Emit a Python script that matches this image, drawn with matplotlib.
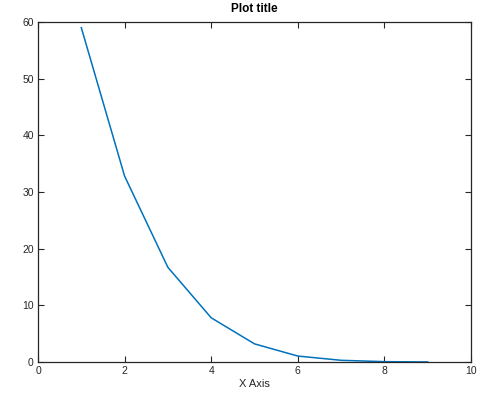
import matplotlib
matplotlib.use('Agg')
import matplotlib.pyplot as plt

plt.rcParams['font.family'] = ['Liberation Sans', 'DejaVu Sans']

x_vals = [1, 2, 3, 4, 5, 6, 7, 8, 9]
y_vals = [59.0, 32.8, 16.7, 7.8, 3.2, 1.05, 0.3, 0.06, 0.01]

fig = plt.figure(figsize=(5.0, 3.94), dpi=100)
ax = fig.add_axes([38 / 500, 1 - 362 / 394, (471 - 38) / 500, (362 - 22) / 394])

ax.plot(x_vals, y_vals, color='#0072BD', linewidth=1.1)

ax.set_xlim(0, 10)
ax.set_ylim(0, 60)
ax.set_xticks([0, 2, 4, 6, 8, 10])
ax.set_yticks([0, 10, 20, 30, 40, 50, 60])
ax.tick_params(direction='in', top=True, right=True, length=4, width=0.8,
               labelsize=7.5, colors='#262626', pad=3)
for s in ax.spines.values():
    s.set_linewidth(0.9)
    s.set_color('#262626')

ax.set_xlabel('X Axis', fontsize=8, labelpad=2, color='#262626')
ax.set_title('Plot title', fontsize=8.5, fontweight='bold', pad=7.5)

fig.savefig('out.png', dpi=100)
